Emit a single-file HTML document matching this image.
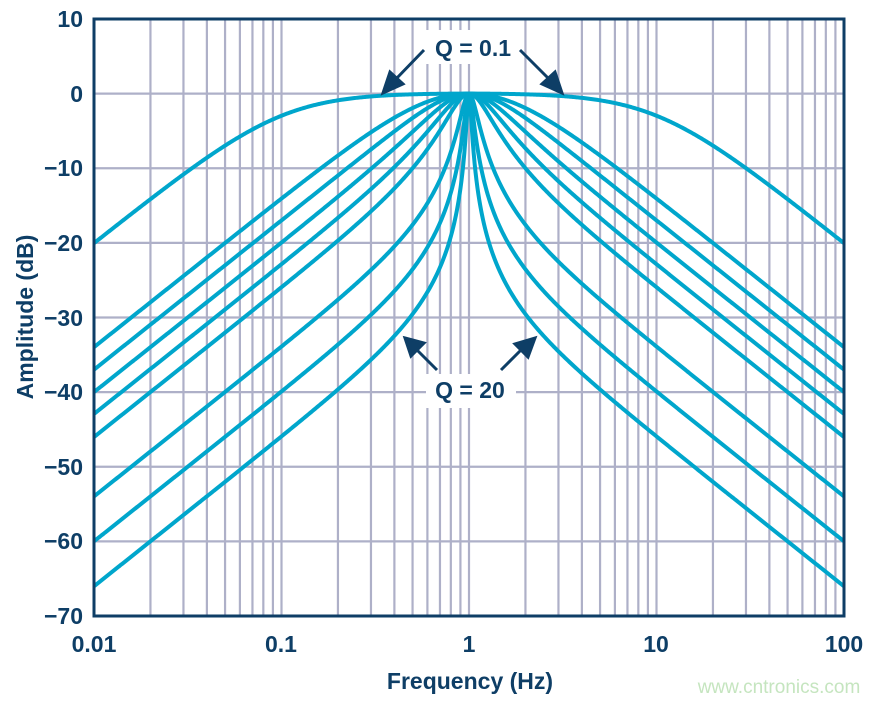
<!DOCTYPE html>
<html><head><meta charset="utf-8"><style>
html,body{margin:0;padding:0;background:#fff;}
svg{display:block;}
text{font-family:"Liberation Sans",Arial,sans-serif;font-weight:bold;fill:#0e3e66;}
</style></head><body>
<svg id="s" width="881" height="701" viewBox="0 0 881 701" xmlns="http://www.w3.org/2000/svg">
<g id="grid" stroke="#aeb0c8" stroke-width="2.2"></g>
<g id="curves" fill="none" stroke="#00a6cc" stroke-width="4" stroke-linejoin="round"></g>
<rect x="94" y="19" width="750" height="597" fill="none" stroke="#0e3e66" stroke-width="3"/>
<g font-size="23" text-anchor="end">
<text x="83" y="27">10</text><text x="83" y="102">0</text><text x="83" y="176">−10</text>
<text x="83" y="251">−20</text><text x="83" y="326">−30</text><text x="83" y="400">−40</text>
<text x="83" y="475">−50</text><text x="83" y="549">−60</text><text x="83" y="624">−70</text>
</g>
<g font-size="23" text-anchor="middle">
<text x="94" y="652">0.01</text><text x="281" y="652">0.1</text><text x="469" y="652">1</text>
<text x="656" y="652">10</text><text x="844" y="652">100</text>
</g>
<text x="470" y="689" font-size="23" text-anchor="middle">Frequency (Hz)</text>
<text transform="translate(33,317) rotate(-90)" font-size="23" text-anchor="middle">Amplitude (dB)</text>
<rect x="426" y="30" width="94" height="34" fill="#fff"/>
<text x="473" y="56" font-size="23" text-anchor="middle">Q = 0.1</text>
<rect x="426" y="374" width="90" height="34" fill="#fff"/>
<text x="470" y="398" font-size="23" text-anchor="middle">Q = 20</text>
<g stroke="#0e3e66" stroke-width="3" fill="#0e3e66">
<line x1="424" y1="50" x2="395" y2="80"/><polygon points="383,93 390,72 403,84"/>
<line x1="520" y1="50" x2="550" y2="80"/><polygon points="562,93 542,84 555,72"/>
<line x1="437" y1="370" x2="415" y2="348"/><polygon points="405,338 424,343 411,356"/>
<line x1="501" y1="370" x2="523" y2="348"/><polygon points="535,338 528,357 515,344"/>
</g>
<text x="779" y="693" font-size="19" text-anchor="middle" style="fill:#c5e5bf;font-weight:normal">www.cntronics.com</text>
</svg>
<script>
var X=function(f){return 94+(Math.log10(f)+2)*187.5;};
var Y=function(d){return 93.6-d*7.4625;};
var g=document.getElementById('grid'),h='';
for(var e=-2;e<2;e++)for(var m=1;m<10;m++){var x=X(m*Math.pow(10,e));h+='<line x1="'+x+'" y1="19" x2="'+x+'" y2="616"/>';}
for(var d=0;d>=-60;d-=10){h+='<line x1="94" y1="'+Y(d)+'" x2="844" y2="'+Y(d)+'"/>';}
g.innerHTML=h;
var Qs=[0.1,0.5,0.707,1,1.4,2,5,10,20],c='';
Qs.forEach(function(Q){var p='';for(var i=0;i<=800;i++){var f=Math.pow(10,-2+4*i/800);var u=f-1/f;var db=-10*Math.log10(1+Q*Q*u*u);p+=(i?'L':'M')+X(f).toFixed(2)+' '+Y(db).toFixed(2);}c+='<path d="'+p+'"/>';});
document.getElementById('curves').innerHTML=c;
</script>
</body></html>
